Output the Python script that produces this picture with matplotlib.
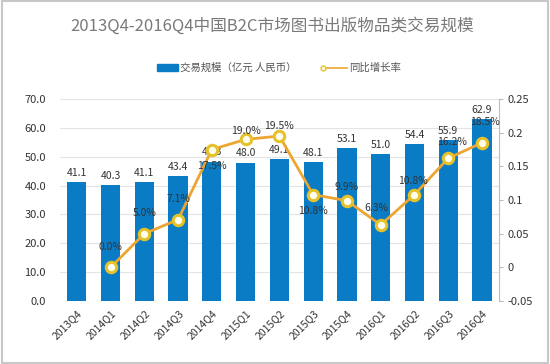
import matplotlib
matplotlib.use('Agg')
import matplotlib.pyplot as plt
from matplotlib.patches import Rectangle

plt.rcParams['font.family'] = ['Noto Sans CJK SC', 'DejaVu Sans']

# ---- data ----
quarters = ['2013Q4', '2014Q1', '2014Q2', '2014Q3', '2014Q4', '2015Q1', '2015Q2',
            '2015Q3', '2015Q4', '2016Q1', '2016Q2', '2016Q3', '2016Q4']
volume = [41.1, 40.3, 41.1, 43.4, 48.3, 48.0, 49.1, 48.1, 53.1, 51.0, 54.4, 55.9, 62.9]
growth = [None, 0.000, 0.050, 0.071, 0.175, 0.190, 0.195, 0.108, 0.099, 0.063, 0.108, 0.162, 0.185]
growth_labels = ['', '0.0%', '5.0%', '7.1%', '17.5%', '19.0%', '19.5%', '10.8%',
                 '9.9%', '6.3%', '10.8%', '16.2%', '18.5%']
# label offsets in points (dx, dy) relative to the marker
label_offsets = [(0, 0), (0, 15), (0, 15), (0, 15), (0, -12), (0, 6), (0, 7), (0, -12),
                 (0, 10), (-3, 12), (-1, 10), (3, 12), (2, 15)]

BAR_COLOR = '#0a7cc6'
LINE_COLOR = '#eda532'
MARKER_EDGE = '#e6c22a'

fig = plt.figure(figsize=(5.5, 3.64), dpi=100)
ax = fig.add_axes([0.109, 0.173, 0.798, 0.555])
ax2 = ax.twinx()

x = list(range(len(quarters)))
ax.bar(x, volume, width=0.57, color=BAR_COLOR, zorder=2)
for xi, v in zip(x, volume):
    ax.annotate(f'{v:.1f}', (xi, v), xytext=(0, 3), textcoords='offset points',
                ha='center', va='bottom', fontsize=7.5, color='#333333')

ax.set_xlim(-0.5, len(quarters) - 0.5)
ax.set_ylim(0, 70)
ax.set_yticks(range(0, 71, 10))
ax.set_yticklabels([f'{t:.1f}' for t in range(0, 71, 10)], fontsize=8, color='#333333')
ax.set_xticks(x)
ax.set_xticklabels(quarters, rotation=45, ha='right', rotation_mode='anchor',
                   fontsize=7.5, color='#333333')
ax.tick_params(axis='y', length=0, pad=10)
ax.tick_params(axis='x', length=0, pad=5)
ax.grid(axis='y', color='#e4e4e4', linewidth=0.8, zorder=0)
ax.set_axisbelow(True)
for s in ['top', 'right', 'left', 'bottom']:
    ax.spines[s].set_visible(False)

gx = [xi for xi, g in zip(x, growth) if g is not None]
gy = [g for g in growth if g is not None]
ax2.plot(gx, gy, color=LINE_COLOR, linewidth=2, marker='o', markersize=7.5,
         markerfacecolor='#fffdf0', markeredgecolor=MARKER_EDGE, markeredgewidth=2.2, zorder=3)
for xi, g, lab, off in zip(x, growth, growth_labels, label_offsets):
    if g is None:
        continue
    ax2.annotate(lab, (xi, g), xytext=off, textcoords='offset points', ha='center',
                 va='center', fontsize=7.5, color='#333333', zorder=4)
ax2.set_ylim(-0.05, 0.25)
ticks2 = [-0.05, 0, 0.05, 0.1, 0.15, 0.2, 0.25]
ax2.set_yticks(ticks2)
ax2.set_yticklabels(['-0.05', '0', '0.05', '0.1', '0.15', '0.2', '0.25'],
                    fontsize=8, color='#333333')
ax2.tick_params(axis='y', length=3, color='#bbbbbb', pad=3)
for s in ['top', 'left', 'bottom']:
    ax2.spines[s].set_visible(False)
ax2.spines['right'].set_color('#bbbbbb')

# title and legend
fig.text(0.495, 0.93, '2013Q4-2016Q4中国B2C市场图书出版物品类交易规模', ha='center',
         va='center', fontsize=12, color='#7a7a7a')
fig.patches.append(Rectangle((0.285, 0.804), 0.039, 0.02, transform=fig.transFigure,
                             color=BAR_COLOR))
fig.text(0.328, 0.814, '交易规模（亿元 人民币）', ha='left', va='center', fontsize=7.5,
         color='#555555')
fig.lines.append(plt.Line2D([0.588, 0.631], [0.814, 0.814], transform=fig.transFigure,
                            color=LINE_COLOR, linewidth=1.2, marker='o', markersize=3.5,
                            markevery=[0], markerfacecolor='#fffbe0',
                            markeredgecolor=MARKER_EDGE))
fig.text(0.634, 0.814, '同比增长率', ha='left', va='center', fontsize=7.5, color='#555555')

# outer border
fig.patches.append(Rectangle((0.004, 0.004), 0.992, 0.992, transform=fig.transFigure,
                             fill=False, edgecolor='#c8c8c8', linewidth=1.5))

fig.savefig('out.png', dpi=100)
